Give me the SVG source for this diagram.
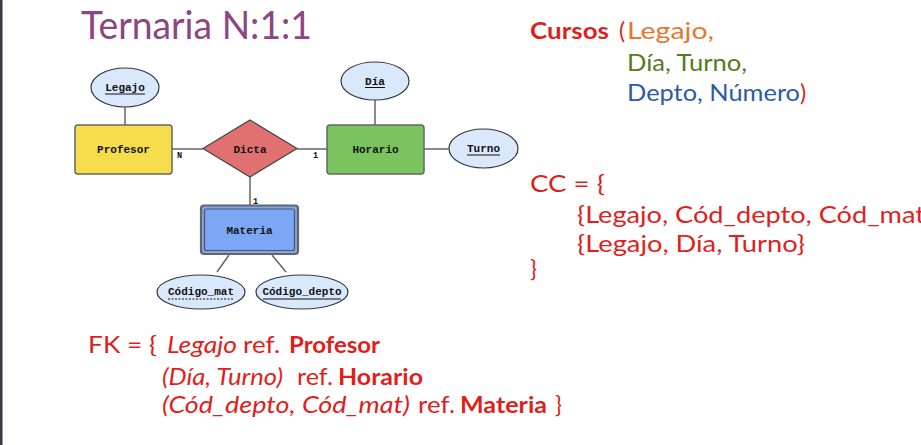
<svg xmlns="http://www.w3.org/2000/svg" width="921" height="445" viewBox="0 0 921 445">
  <style>
    .ent { stroke: #666666; stroke-width: 1.5; }
    .attr { fill: #dae8fc; stroke: #36393d; stroke-width: 1.2; }
    .lbl { font-family: "Liberation Mono", "DejaVu Sans Mono", monospace; font-weight: bold; font-size: 11px; fill: #111111; text-anchor: middle; }
    .card { font-family: "Liberation Mono", "DejaVu Sans Mono", monospace; font-weight: bold; font-size: 8.5px; fill: #111111; }
    .edge { stroke: #666666; stroke-width: 1.5; fill: none; }
    .key { stroke: #111111; stroke-width: 1; }
    .slide { font-family: Lato, "Open Sans", sans-serif; font-size: 23px; }
    .red { fill: #e01f1c; }
    .b { font-weight: bold; }
    .i { font-style: italic; }
  </style>

  <!-- window edge strip -->
  <rect x="0" y="0" width="2.5" height="445" fill="#3b3a40"/>

  <!-- title -->
  <text x="81" y="38.5" font-family="Lato, 'Open Sans', sans-serif" font-size="38" fill="#8c4682" textLength="231" lengthAdjust="spacingAndGlyphs">Ternaria N:1:1</text>

  <!-- connectors -->
  <g id="connectors">
    <line class="edge" x1="125" y1="107" x2="125" y2="125"/>
    <line class="edge" x1="172" y1="149" x2="203" y2="149"/>
    <line class="edge" x1="297" y1="149" x2="327" y2="149"/>
    <line class="edge" x1="375" y1="100" x2="375" y2="125"/>
    <line class="edge" x1="424" y1="149" x2="449" y2="149"/>
    <line class="edge" x1="250" y1="177" x2="250" y2="205"/>
    <line class="edge" x1="229" y1="255" x2="217" y2="272"/>
    <line class="edge" x1="272" y1="255" x2="286" y2="272"/>
    <text class="card" x="177" y="158">N</text>
    <text class="card" x="313" y="158">1</text>
    <text class="card" x="253" y="204">1</text>
  </g>

  <!-- entities -->
  <g id="profesor">
    <rect class="ent" x="75" y="125" width="97" height="49" rx="3" fill="#f6dd4c"/>
    <text class="lbl" x="123.5" y="153">Profesor</text>
  </g>
  <g id="horario">
    <rect class="ent" x="327" y="125" width="97" height="49" rx="3" fill="#7bc35e"/>
    <text class="lbl" x="375.5" y="153">Horario</text>
  </g>
  <g id="materia">
    <rect x="201" y="205.5" width="97" height="48.5" rx="3" fill="#7ba7f5" stroke="#666666" stroke-width="2.2"/>
    <rect x="204.5" y="209" width="90" height="41.5" rx="2" fill="none" stroke="#555555" stroke-width="1.2"/>
    <text class="lbl" x="249.5" y="234">Materia</text>
  </g>

  <!-- relationship -->
  <g id="dicta">
    <polygon points="250,120 297,148.5 250,177 203,148.5" fill="#e17171" stroke="#444444" stroke-width="1.2"/>
    <text class="lbl" x="250" y="153">Dicta</text>
  </g>

  <!-- attributes -->
  <g id="legajo">
    <ellipse class="attr" cx="125" cy="87.5" rx="34" ry="19.5"/>
    <text class="lbl" x="125" y="91">Legajo</text>
    <line class="key" x1="105" y1="94" x2="145" y2="94"/>
  </g>
  <g id="dia">
    <ellipse class="attr" cx="375" cy="81" rx="34" ry="19"/>
    <text class="lbl" x="375" y="84.5">Día</text>
    <line class="key" x1="365" y1="87.5" x2="385" y2="87.5"/>
  </g>
  <g id="turno">
    <ellipse class="attr" cx="483.5" cy="148.5" rx="34.5" ry="19.5"/>
    <text class="lbl" x="483.5" y="152">Turno</text>
    <line class="key" x1="467" y1="155" x2="500" y2="155"/>
  </g>
  <g id="codigo-mat">
    <ellipse class="attr" cx="201" cy="292" rx="44" ry="17"/>
    <text class="lbl" x="201" y="295">Código_mat</text>
    <line class="key" x1="168" y1="299" x2="234" y2="299" stroke-dasharray="2,1.5"/>
  </g>
  <g id="codigo-depto">
    <ellipse class="attr" cx="302" cy="292" rx="46" ry="17"/>
    <text class="lbl" x="302" y="295">Código_depto</text>
    <line class="key" x1="263" y1="299" x2="341" y2="299"/>
  </g>

  <!-- relation schema -->
  <g id="cursos" class="slide">
    <text x="530" y="39" class="red b" textLength="79" lengthAdjust="spacingAndGlyphs">Cursos</text>
    <text x="619" y="39" class="red">(</text>
    <text x="627" y="39" fill="#e8762c" textLength="87" lengthAdjust="spacingAndGlyphs">Legajo,</text>
    <text x="627" y="71" fill="#557b21" textLength="120" lengthAdjust="spacingAndGlyphs">Día, Turno,</text>
    <text x="627" y="101" fill="#2e5aa6" textLength="173" lengthAdjust="spacingAndGlyphs">Depto, Número</text>
    <text x="800" y="101" class="red">)</text>
  </g>

  <!-- candidate keys -->
  <g id="cc" class="slide red" font-size="24">
    <text x="530" y="192" textLength="75" lengthAdjust="spacingAndGlyphs">CC = {</text>
    <text x="577" y="223" textLength="348" lengthAdjust="spacingAndGlyphs">{Legajo, Cód_depto, Cód_mat</text>
    <text x="577" y="252" textLength="228" lengthAdjust="spacingAndGlyphs">{Legajo, Día, Turno}</text>
    <text x="530" y="277">}</text>
  </g>

  <!-- foreign keys -->
  <g id="fk" class="slide red">
    <text x="88" y="353" textLength="69" lengthAdjust="spacingAndGlyphs">FK = {</text>
    <text x="167" y="353" class="i" textLength="70" lengthAdjust="spacingAndGlyphs">Legajo</text>
    <text x="243" y="353" textLength="37" lengthAdjust="spacingAndGlyphs">ref.</text>
    <text x="289" y="353" class="b" textLength="91" lengthAdjust="spacingAndGlyphs">Profesor</text>
    <text x="162" y="385" class="i" textLength="121" lengthAdjust="spacingAndGlyphs">(Día, Turno)</text>
    <text x="297" y="385" textLength="36" lengthAdjust="spacingAndGlyphs">ref.</text>
    <text x="338" y="385" class="b" textLength="85" lengthAdjust="spacingAndGlyphs">Horario</text>
    <text x="162" y="413" class="i" textLength="248" lengthAdjust="spacingAndGlyphs">(Cód_depto, Cód_mat)</text>
    <text x="418" y="413" textLength="37" lengthAdjust="spacingAndGlyphs">ref.</text>
    <text x="460" y="413" class="b" textLength="87" lengthAdjust="spacingAndGlyphs">Materia</text>
    <text x="555" y="413">}</text>
  </g>
</svg>
